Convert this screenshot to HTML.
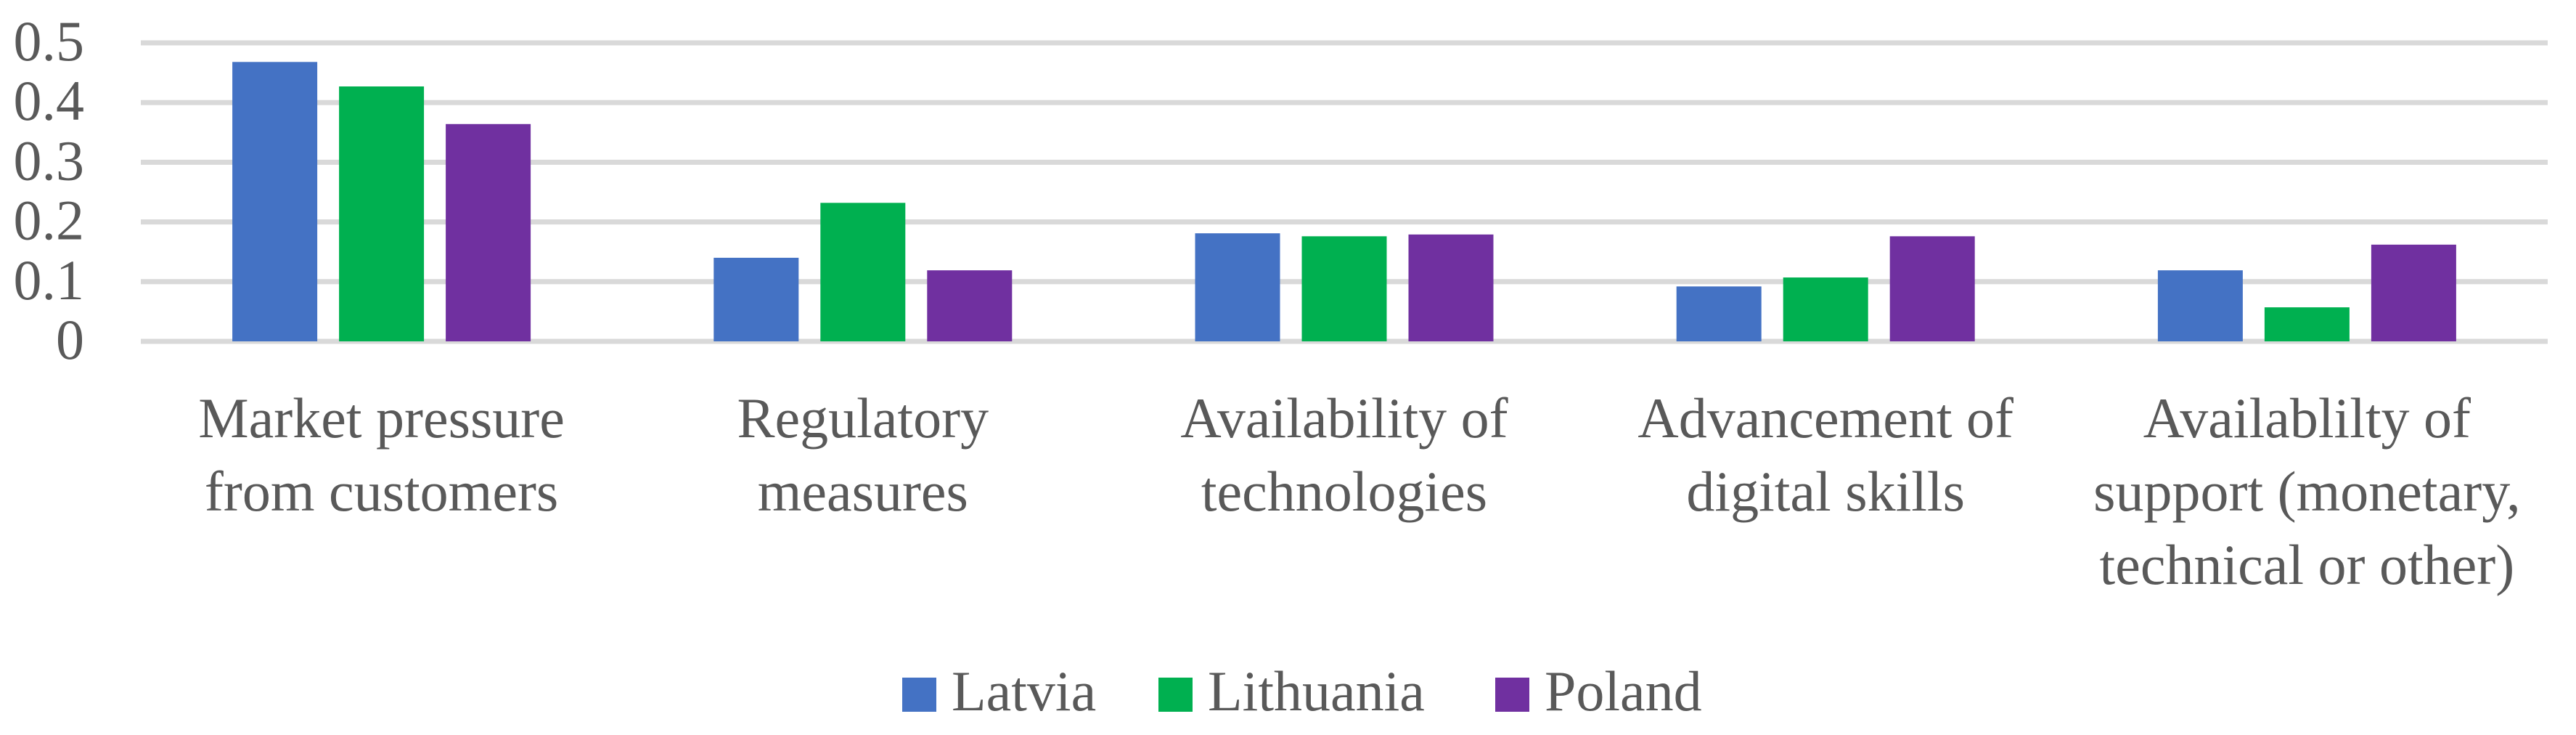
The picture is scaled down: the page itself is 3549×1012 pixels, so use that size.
<!DOCTYPE html>
<html><head><meta charset="utf-8"><style>
html,body{margin:0;padding:0;background:#fff;}
svg{display:block;}
text{font-family:"Liberation Serif",serif;}
</style></head><body>
<svg id="chart" width="3549" height="1012" viewBox="0 0 3549 1012" xmlns="http://www.w3.org/2000/svg" font-family="Liberation Serif, serif">
<g id="grid"></g>
<g id="ylabels"></g>
<g id="bars"></g>
<g id="xlabels"></g>
<g id="legend"></g>
</svg>
<script>
const categories = [
  ["Market pressure","from customers"],
  ["Regulatory","measures"],
  ["Availability of","technologies"],
  ["Advancement of","digital skills"],
  ["Availablilty of","support (monetary,","technical or other)"]
];
const seriesNames = ["Latvia","Lithuania","Poland"];
const latvia = [0.468, 0.140, 0.181, 0.092, 0.119];
const lithuania = [0.427, 0.232, 0.176, 0.107, 0.057];
const poland = [0.364, 0.119, 0.179, 0.176, 0.162];
const yTicks = [0, 0.1, 0.2, 0.3, 0.4, 0.5];
const yTickLabels = ["0","0.1","0.2","0.3","0.4","0.5"];

const colors = ["#4472c4","#00b050","#7030a0"];
const series = [latvia, lithuania, poland];
const NS = "http://www.w3.org/2000/svg";
const FONT = "'Liberation Serif', serif";
const plotL = 194, plotR = 3510, y0 = 470, yTop = 59, yMax = 0.5;
const catW = (plotR - plotL) / categories.length;
const barW = 117, barGap = 30;
function yScale(v){ return y0 - (v / yMax) * (y0 - yTop); }
function xCat(i){ return plotL + catW * i + catW / 2; }
function mk(tag, attrs, parent){ const e = document.createElementNS(NS, tag); for (const k in attrs) e.setAttribute(k, attrs[k]); parent.appendChild(e); return e; }

const grid = document.getElementById('grid');
const yl = document.getElementById('ylabels');
yTicks.forEach((t, i) => {
  const y = yScale(t);
  const l = mk('rect', {x: plotL, y: y - 3.5, width: plotR - plotL, height: 7, fill: '#d9d9d9'}, grid);
  
  
  const tx = mk('text', {x: 116, y: y + 24, 'text-anchor': 'end', 'font-size': 78, fill: '#595959', 'font-family': FONT}, yl);
  tx.textContent = yTickLabels[i];
  
  
});

const bars = document.getElementById('bars');
const groupW = barW * series.length + barGap * (series.length - 1);
categories.forEach((c, i) => {
  const start = xCat(i) - groupW / 2;
  series.forEach((s, j) => {
    const top = yScale(s[i]);
    const r = mk('rect', {x: start + j * (barW + barGap), y: top, width: barW, height: y0 - top, fill: colors[j]}, bars);
    
    
  });
});

const xl = document.getElementById('xlabels');
categories.forEach((lines, i) => {
  const t = mk('text', {x: xCat(i), y: 602, 'text-anchor': 'middle', 'font-size': 78, fill: '#595959', 'font-family': FONT}, xl);
  
  
  lines.forEach((ln, k) => {
    const ts = mk('tspan', {x: xCat(i), y: 602 + k * 101}, t);
    ts.textContent = ln;
  });
});

const lg = document.getElementById('legend');
const legX = [1243, 1596, 2060];
seriesNames.forEach((n, j) => {
  const g = mk('g', {}, lg);
  
  
  mk('rect', {x: legX[j], y: 933, width: 47, height: 47, fill: colors[j]}, g);
  const t = mk('text', {x: legX[j] + 68, y: 978, 'font-size': 78, fill: '#595959', 'font-family': FONT}, g);
  t.textContent = n;
});
</script>
</body></html>
